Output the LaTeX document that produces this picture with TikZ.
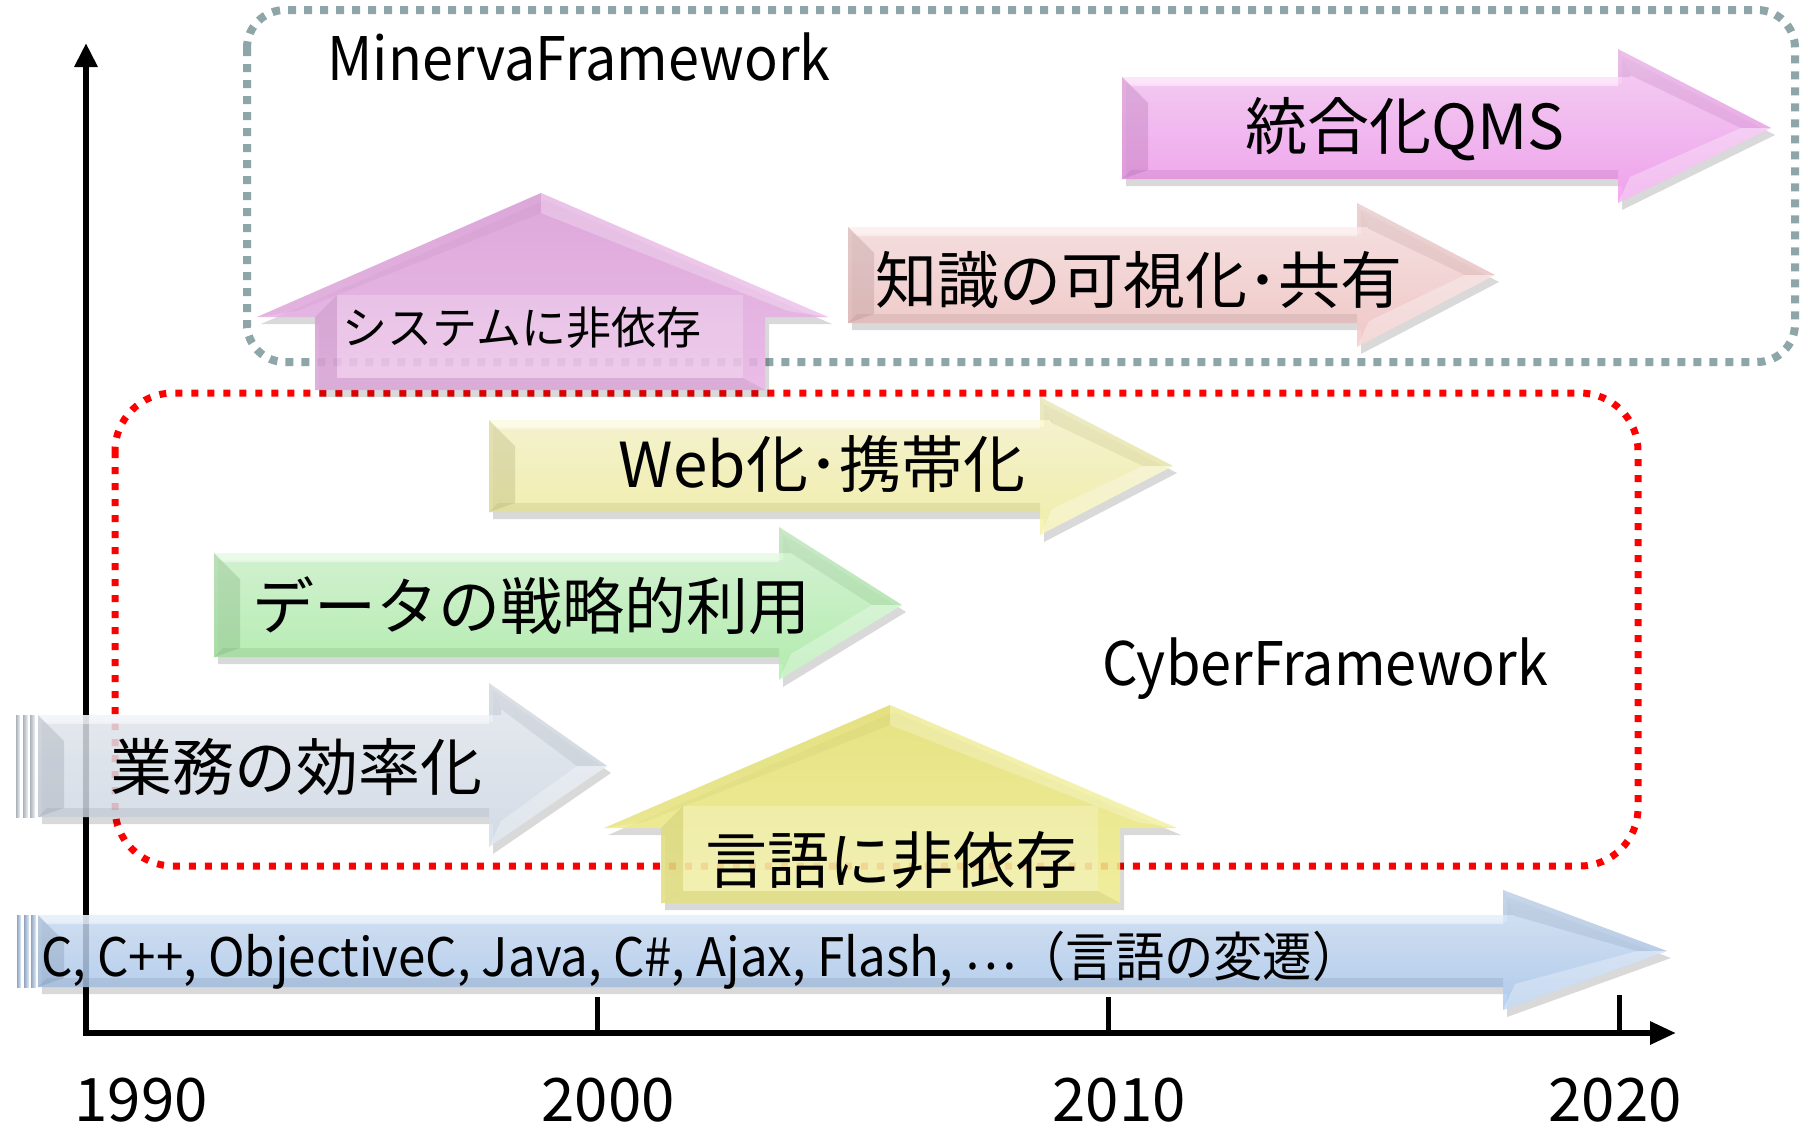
\documentclass[tikz,border=0pt]{standalone}
\usepackage{fontspec}
\setmainfont{Noto Sans CJK JP}
\newfontfamily\condfont{Noto Sans CJK JP}[FakeStretch=0.93]
\usetikzlibrary{arrows.meta}
\definecolor{cQMS}{RGB}{244,150,240}
\definecolor{cKnow}{RGB}{246,196,196}
\definecolor{cSys}{RGB}{232,166,228}
\definecolor{cWeb}{RGB}{246,242,160}
\definecolor{cGreen}{RGB}{170,240,165}
\definecolor{cGyomu}{RGB}{210,220,233}
\definecolor{cLang}{RGB}{242,238,120}
\definecolor{cBlue}{RGB}{168,200,240}
\definecolor{cGray}{RGB}{143,166,168}
\tikzset{
  axisline/.style={line width=6pt, draw=black},
  tickline/.style={line width=5pt, draw=black},
  graybox/.style={draw=cGray, line width=8pt, dash pattern=on 8pt off 8pt, rounded corners=38pt},
  redbox/.style={draw=red, line width=7pt, dash pattern=on 7pt off 9pt, rounded corners=58pt},
  lbl/.style={inner sep=0pt, anchor=center, text=black},
  bigtxt/.style={lbl, font=\fontsize{62}{62}\selectfont},
  frametxt/.style={lbl, font=\condfont\fontsize{60}{60}\selectfont},
  yeartxt/.style={lbl, anchor=base, font=\fontsize{60}{60}\selectfont},
}
% right block arrow: #1 L, #2 T, #3 B, #4 head base x, #5 head top, #6 head bottom, #7 tip x, #8 colour
\newcommand{\RArr}[8]{%
  \pgfmathsetmacro{\mY}{(#2+#3)/2}%
  \fill[black, opacity=0.15, shift={(4,7)}] (#1,#2)--(#4,#2)--(#4,#5)--(#7,\mY)--(#4,#6)--(#4,#3)--(#1,#3)--cycle;
  \shade[top color=#8!45!white, bottom color=#8, opacity=0.82] (#1,#2)--(#4,#2)--(#4,#5)--(#7,\mY)--(#4,#6)--(#4,#3)--(#1,#3)--cycle;
  \fill[white, opacity=0.45] (#1,#2)--(#4,#2)--(#4,#2+9)--(#1+9,#2+9)--cycle;
  \fill[#8!70!black, opacity=0.30] (#1,#2)--(#1+26,#2+26)--(#1+26,#3-9)--(#1,#3)--cycle;
  \fill[#8!70!black, opacity=0.22] (#1,#3)--(#1+9,#3-9)--(#4,#3-9)--(#4,#3)--cycle;
  \fill[#8!75!black, opacity=0.22] (#4,#5)--(#7,\mY)--(#7-30,\mY)--(#4+12,#5+26)--cycle;
  \fill[white, opacity=0.30] (#4,#6)--(#7,\mY)--(#7-30,\mY)--(#4+12,#6-26)--cycle;
  \fill[#8!75!black, opacity=0.25] (#4,#5)--(#4+12,#5+26)--(#4+12,#2)--(#4,#2)--cycle;
}
% up block arrow: #1 head left, #2 head right, #3 head base y, #4 tip x, #5 tip y, #6 body left, #7 body right, #8 body bottom, #9 colour
\newcommand{\UArr}[9]{%
  \fill[black, opacity=0.15, shift={(4,7)}] (#4,#5)--(#2,#3)--(#7,#3)--(#7,#8)--(#6,#8)--(#6,#3)--(#1,#3)--cycle;
  \shade[top color=#9!96!black, bottom color=#9!80!white, opacity=0.85] (#4,#5)--(#2,#3)--(#7,#3)--(#7,#8)--(#6,#8)--(#6,#3)--(#1,#3)--cycle;
  \fill[white, opacity=0.22] (#6+22,#3-22)--(#7-22,#3-22)--(#7-22,#8-12)--(#6+22,#8-12)--cycle;
  \fill[#9!70!black, opacity=0.20] (#6,#3)--(#6+22,#3-22)--(#6+22,#8-12)--(#6,#8)--cycle;
  \fill[#9!70!black, opacity=0.20] (#6,#8)--(#6+22,#8-12)--(#7-22,#8-12)--(#7,#8)--cycle;
  \fill[white, opacity=0.25] (#4,#5)--(#2,#3)--(#2-40,#3-6)--(#4,#5+20)--cycle;
  \fill[#9!70!black, opacity=0.10] (#4,#5)--(#1,#3)--(#1+40,#3-6)--(#4,#5+20)--cycle;
}
% one stripe of a striped arrow: #1 x1, #2 x2, #3 top, #4 bottom, #5 colour
\newcommand{\Stripe}[5]{%
  \shade[left color=#5!75!black, right color=#5!40!white, opacity=0.85] (#1,#3) rectangle (#2,#4);
}
\begin{document}
\begin{tikzpicture}[x=1pt,y=-1pt]
\useasboundingbox (0,0) rectangle (1806,1125);
\fill[white] (0,0) rectangle (1806,1125);

% framework boxes
\draw[graybox] (247,10) rectangle (1795,362);
\draw[redbox] (115,393) rectangle (1638,866);

% axes
\coordinate (origin) at (86,1033);
\coordinate (ybase) at (86,1036);
\coordinate (ytop) at (86,43);
\coordinate (xbase) at (83,1033);
\coordinate (xend) at (1676,1033);
\draw[axisline, -{Triangle[length=24pt,width=22pt]}] (ybase) -- (ytop);
\draw[axisline, -{Triangle[length=26pt,width=22pt]}] (xbase) -- (xend);
\draw[tickline] (597,997) -- (597,1033);
\draw[tickline] (1108,997) -- (1108,1033);
\draw[tickline] (1619,995) -- (1619,1033);

% arrows
\RArr{1122}{77}{179}{1618}{49}{203}{1771}{cQMS}
\RArr{848}{227}{323}{1357}{203}{347}{1495}{cKnow}
\UArr{257}{828}{317}{541}{193}{315}{765}{390}{cSys}
\RArr{489}{420}{512}{1040}{397}{535}{1173}{cWeb}
\RArr{214}{553}{657}{779}{527}{680}{902}{cGreen}
\Stripe{16}{20}{715}{817}{cGyomu}
\Stripe{23}{28}{715}{817}{cGyomu}
\Stripe{30}{35}{715}{817}{cGyomu}
\RArr{38}{715}{817}{489}{683}{847}{607}{cGyomu}
\UArr{604}{1177}{828}{890}{705}{661}{1120}{903}{cLang}
\Stripe{17}{21}{915}{987}{cBlue}
\Stripe{24}{29}{915}{987}{cBlue}
\Stripe{31}{36}{915}{987}{cBlue}
\RArr{38}{915}{987}{1503}{890}{1010}{1667}{cBlue}

% texts
\node[frametxt] (minerva) at (579,57) {MinervaFramework};
\node[frametxt] (cyber) at (1325,669) {CyberFramework};
\node[bigtxt] (qms) at (1405,129) {統合化QMS};
\node[bigtxt] (know) at (1139,280) {知識の可視化･共有};
\node[lbl, font=\fontsize{45}{45}\selectfont] (sys) at (522,328) {システムに非依存};
\node[bigtxt] (web) at (822,464) {Web化･携帯化};
\node[bigtxt] (data) at (531,606) {データの戦略的利用};
\node[bigtxt] (gyomu) at (296,767) {業務の効率化};
\node[bigtxt] (lang) at (891,860) {言語に非依存};
\node[lbl, anchor=west, font=\condfont\fontsize{53}{53}\selectfont] (langs) at (41,960) {C, C++, ObjectiveC, Java, C\#, Ajax, Flash, \raisebox{0.12em}{⋯}（言語の変遷）};
\node[yeartxt] (y1990) at (141,1121) {1990};
\node[yeartxt] (y2000) at (608,1121) {2000};
\node[yeartxt] (y2010) at (1119,1121) {2010};
\node[yeartxt] (y2020) at (1615,1121) {2020};
\end{tikzpicture}
\end{document}
